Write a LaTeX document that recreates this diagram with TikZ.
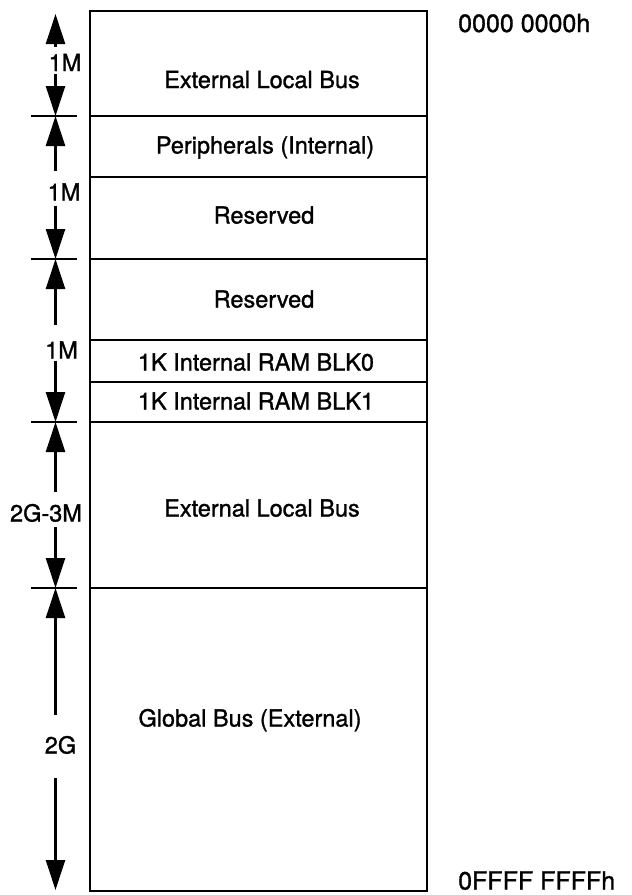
\documentclass[tikz,border=0pt]{standalone}
\usepackage{fontspec}
\setmainfont{TeX Gyre Heros}
\newfontfamily\mapfont{TeX Gyre Heros}[FakeBold=1.2]
\usetikzlibrary{arrows.meta}

\begin{document}
\begin{tikzpicture}[
  x=1pt, y=-1pt,
  every node/.style={align=center},
  txt/.style={inner sep=0pt, text height=17pt, text depth=0pt, font=\mapfont\fontsize{23.5}{28}\selectfont},
  addr/.style={txt, anchor=west, font=\mapfont\fontsize{25}{30}\selectfont},
  dimlbl/.style={txt, inner ysep=2pt},
  mapline/.style={line width=2.6pt},
  tickline/.style={line width=2.3pt},
  dimarr/.style={-{Triangle[length=30pt,width=19pt]}, line width=2.5pt}
]
  \useasboundingbox (0,0) rectangle (632,895);

  \draw[mapline] (90,11) rectangle (427,891);
  \foreach \y in {116,177,259,340,382,422,588}
    \draw[mapline] (90,\y) -- (427,\y);

  \node[txt] (extlo)  at (262,79.5) {External Local Bus};
  \node[txt] (periph) at (265,145)  {Peripherals (Internal)};
  \node[txt] (resa)   at (264,215)  {Reserved};
  \node[txt] (resb)   at (264,299)  {Reserved};
  \node[txt] (blk0)   at (256,362)  {1K Internal RAM BLK0};
  \node[txt] (blk1)   at (256,401)  {1K Internal RAM BLK1};
  \node[txt] (exthi)  at (262,508)  {External Local Bus};
  \node[txt] (glob)   at (250,718)  {Global Bus (External)};

  \node[addr] (addrlo) at (458,23.5) {0000 0000h};
  \node[addr] (addrhi) at (458,881)  {0FFFF FFFFh};

  \coordinate (d0) at (55.5,14);
  \coordinate (d1) at (55.5,116);
  \coordinate (d2) at (55.5,259);
  \coordinate (d3) at (55.5,422);
  \coordinate (d4) at (55.5,588);
  \coordinate (d5) at (55.5,890);

  \foreach \c in {d1,d2,d3,d4}
    \draw[tickline] ([xshift=-25pt]\c) -- ([xshift=21pt]\c);

  \node[dimlbl] (m1) at (65,62.5)  {1M};
  \node[dimlbl] (m2) at (64,192)   {1M};
  \node[dimlbl] (m3) at (61.5,350) {1M};
  \node[dimlbl] (m4) at (46,513)   {2G-3M};
  \node[dimlbl] (m5) at (60.5,745) {2G};

  \draw[dimarr, shorten <=5pt]    (m1.north -| d0) -- (d0);
  \draw[dimarr, shorten <=1pt]    (m1.south -| d1) -- (d1);
  \draw[dimarr, shorten <=10pt]   (m2.north -| d1) -- (d1);
  \draw[dimarr, shorten <=3pt]    (m2.south -| d2) -- (d2);
  \draw[dimarr, shorten <=14.5pt] (m3.north -| d2) -- (d2);
  \draw[dimarr]                   (m3.south -| d3) -- (d3);
  \draw[dimarr, shorten <=10.5pt] (m4.north -| d3) -- (d3);
  \draw[dimarr, shorten <=3.5pt]  (m4.south -| d4) -- (d4);
  \draw[dimarr, shorten <=19.5pt] (m5.north -| d4) -- (d4);
  \draw[dimarr, shorten <=22.5pt] (m5.south -| d5) -- (d5);
\end{tikzpicture}
\end{document}
